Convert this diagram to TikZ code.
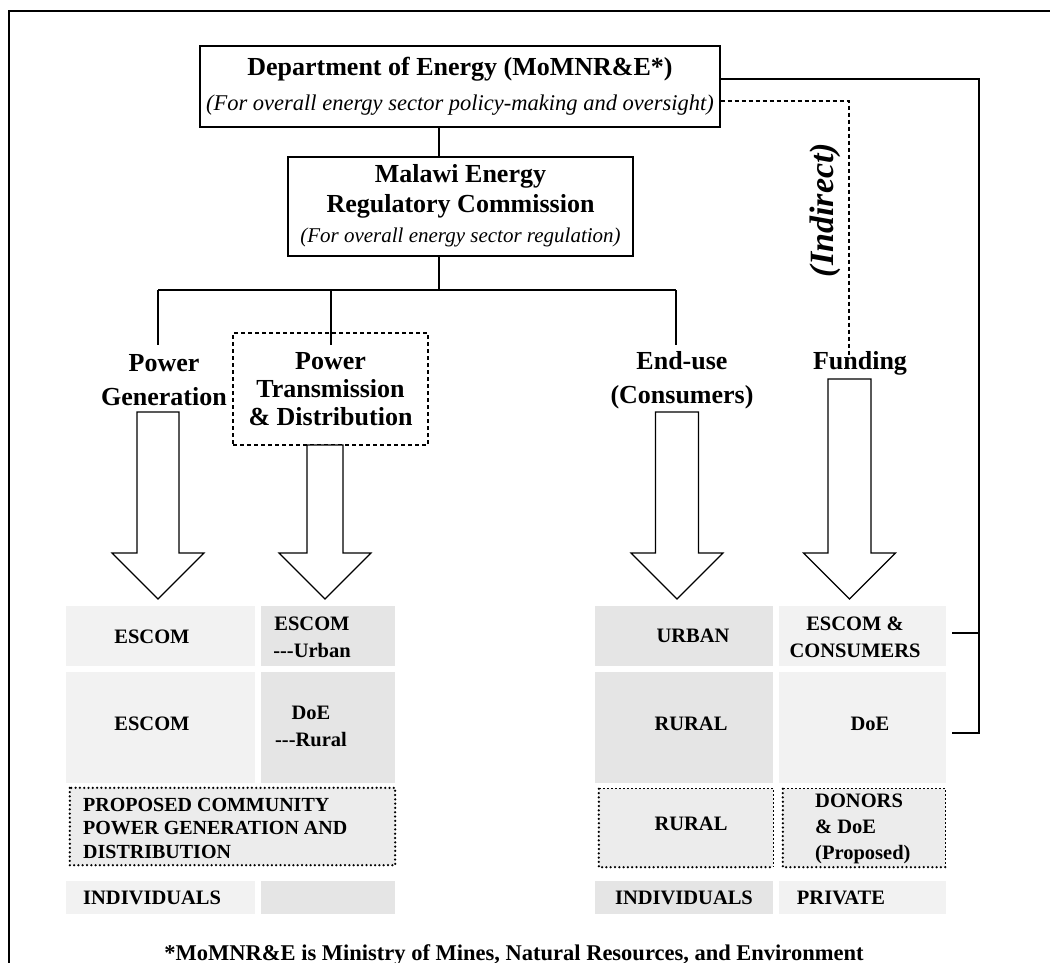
\documentclass[tikz,border=0pt]{standalone}
\usepackage{fontspec}
\setmainfont{Liberation Serif}
\usetikzlibrary{calc}
\definecolor{cellA}{HTML}{F2F2F2}
\definecolor{cellB}{HTML}{E5E5E5}
\definecolor{cellP}{HTML}{ECECEC}
\newcommand{\blockarrow}[6]{%
  \draw[arrowshape] (#1-#3,#2) -- (#1+#3,#2) -- (#1+#3,#5) -- (#1+#4,#5) -- (#1,#6)
     -- (#1-#4,#5) -- (#1-#3,#5) -- cycle;}
\newcommand{\hy}{-\kern0pt-\kern0pt-}
\begin{document}
\begin{tikzpicture}[x=1pt,y=-1pt,
  box/.style={draw, line width=1.4pt, fill=white, inner sep=0pt, align=center},
  conn/.style={line width=1.4pt},
  dconn/.style={line width=1.3pt, dash pattern=on 4pt off 3pt},
  arrowshape/.style={draw, line width=1.2pt, fill=white},
  lbl/.style={font=\fontsize{26}{34}\selectfont\bfseries, align=center, inner sep=2pt},
  celltxt/.style={font=\fontsize{20.5}{27}\selectfont\bfseries, inner sep=0pt, align=center},
  lightcell/.style={fill=cellA, draw=none, inner sep=0pt},
  darkcell/.style={fill=cellB, draw=none, inner sep=0pt},
  propcell/.style={fill=cellP, draw=none, inner sep=0pt},
  thickdot/.style={line width=2.5pt, line cap=round, dash pattern=on 0pt off 4.3pt},
  thindash/.style={line width=1.1pt, dash pattern=on 2pt off 2pt}
]
\useasboundingbox (0,0) rectangle (1050,963);
% outer frame
\draw[line width=2.4pt] (9,980) -- (9,11) -- (1070,11);

% top boxes
\node[box, minimum width=520pt, minimum height=81pt, font=\fontsize{26}{35}\selectfont\bfseries]
  (doe) at (460,86.5) {Department of Energy (MoMNR\&E*)\\
  {\fontsize{22.5}{27}\selectfont\mdseries\itshape (For overall energy sector policy-making and oversight)}};
\node[box, minimum width=345pt, minimum height=99pt, font=\fontsize{26}{30}\selectfont\bfseries,
  text depth=6pt] (merc) at (460.5,206.5) {Malawi Energy\\Regulatory Commission\\
  {\fontsize{21}{30}\selectfont\mdseries\itshape (For overall energy sector regulation)}};

% branch labels
\node[lbl] (gen) at (164,380) {Power\\Generation};
\node[lbl, draw, line width=1.3pt, dash pattern=on 4pt off 3pt, minimum width=195pt, minimum height=112pt,
  font=\fontsize{26}{28}\selectfont\bfseries] (trans) at (330.5,389) {Power\\Transmission\\\& Distribution};
\node[lbl] (enduse) at (682,380) {End-use\\(Consumers)};
\node[lbl] (fund) at (860,363) {Funding};
\node[rotate=90, font=\fontsize{34}{40}\selectfont\bfseries\itshape, inner sep=0pt] (indir) at (825,210) {(Indirect)};

% connectors
\coordinate (trunk) at (439,290);
\coordinate (barL) at (158,290);
\coordinate (barR) at (676,290);
\coordinate (transTop) at (331,290);
\draw[conn] (doe.south -| trunk) -- (merc.north -| trunk);
\draw[conn] (merc.south -| trunk) -- (trunk);
\draw[conn] (barL) -- (barR);
\draw[conn] (barL) -- (158,345);
\draw[conn] (transTop) -- (331,345);
\draw[conn] (barR) -- (676,345);
\coordinate (indirCorner) at (849,101);
\coordinate (fundTop) at (849,355);
\draw[dconn] ([yshift=-14.5pt]doe.east) -- (indirCorner) -- (fundTop);
\coordinate (rTop) at (979,79);
\coordinate (rBot) at (979,733);

% block arrows: cx, top, shaft half width, head half width, head base, tip
\blockarrow{158}{412}{21}{46}{553}{599}
\blockarrow{325}{445}{18}{46}{553}{599}
\blockarrow{677}{412}{21.5}{46}{553}{599}
\blockarrow{849.5}{379}{21.5}{46}{553}{599}

% left table
\node[lightcell, minimum width=189pt, minimum height=60pt] (a1) at (160.5,636) {};
\node[darkcell, minimum width=134pt, minimum height=60pt] (b1) at (328,636) {};
\node[lightcell, minimum width=189pt, minimum height=111pt] (a2) at (160.5,727.5) {};
\node[darkcell, minimum width=134pt, minimum height=111pt] (b2) at (328,727.5) {};
\node[propcell, minimum width=325pt, minimum height=77pt] (p1) at (232.5,826.5) {};
\draw[thickdot] (p1.north west) rectangle (p1.south east);
\node[lightcell, minimum width=189pt, minimum height=33pt] (a4) at (160.5,897.5) {};
\node[darkcell, minimum width=134pt, minimum height=33pt] (b4) at (328,897.5) {};

% right table
\node[darkcell, minimum width=178pt, minimum height=60pt] (c1) at (684,636) {};
\node[lightcell, minimum width=167pt, minimum height=60pt] (d1) at (862.5,636) {};
\node[darkcell, minimum width=178pt, minimum height=111pt] (c2) at (684,727.5) {};
\node[lightcell, minimum width=167pt, minimum height=111pt] (d2) at (862.5,727.5) {};
\node[propcell, minimum width=174pt, minimum height=78pt] (c3) at (686,828) {};
\node[propcell, minimum width=162pt, minimum height=78pt] (d3) at (864,828) {};
\foreach \c in {c3,d3}{
  \draw[thindash] (\c.north west) -- (\c.north east) -- (\c.south east);
  \draw[thickdot] (\c.north west) -- (\c.south west) -- (\c.south east);
}
\node[darkcell, minimum width=178pt, minimum height=33pt] (c4) at (684,897.5) {};
\node[lightcell, minimum width=167pt, minimum height=33pt] (d4) at (862.5,897.5) {};

% right connector
\draw[conn] ([yshift=7.5pt]doe.east) -- (rTop) -- (rBot) -- ($(d2.east)+(6,5.5)$);
\draw[conn] ($(d1.east)+(6,-3)$) -- (979,633);

% cell texts
\node[celltxt] (ta1) at (152,637) {ESCOM};
\node[celltxt] (tb1) at (312,637) {ESCOM\\\hy Urban};
\node[celltxt] (ta2) at (152,724) {ESCOM};
\node[celltxt] (tb2) at (311,726) {DoE\\\hy Rural};
\node[celltxt, anchor=west, align=left, font=\fontsize{20}{23.5}\selectfont\bfseries] (tp1) at (83,828)
  {PROPOSED COMMUNITY\\POWER GENERATION AND\\DISTRIBUTION};
\node[celltxt, anchor=west] (ta4) at (83,898) {INDIVIDUALS};

\node[celltxt] (tc1) at (693,636) {URBAN};
\node[celltxt] (td1) at (855,637) {ESCOM \&\\CONSUMERS};
\node[celltxt] (tc2) at (691,724) {RURAL};
\node[celltxt] (td2) at (870,724) {DoE};
\node[celltxt] (tc3) at (691,824) {RURAL};
\node[celltxt, anchor=west, align=left, font=\fontsize{20.5}{26}\selectfont\bfseries] (td3) at (815,829)
  {DONORS\\\& DoE\\(Proposed)};
\node[celltxt] (tc4) at (684,898) {INDIVIDUALS};
\node[celltxt] (td4) at (841,898) {PRIVATE};

% footnote
\node[anchor=base, inner sep=0pt, font=\fontsize{22.5}{27}\selectfont\bfseries] (foot) at (514,960)
  {*MoMNR\&E is Ministry of Mines, Natural Resources, and Environment};
\end{tikzpicture}
\end{document}
